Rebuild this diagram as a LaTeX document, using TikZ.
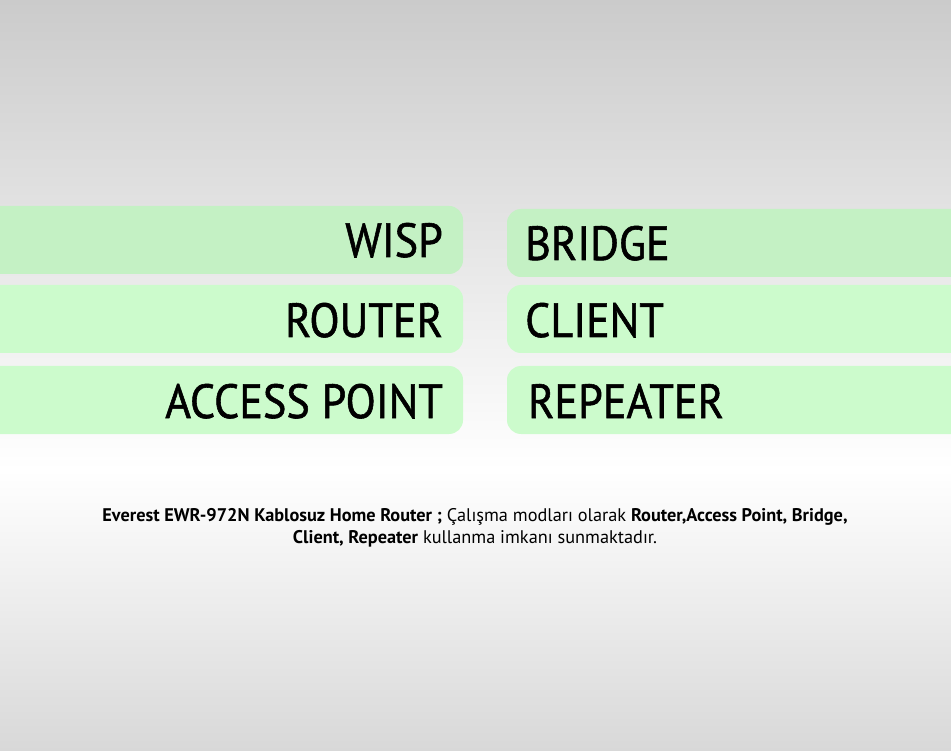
\documentclass[tikz,border=0pt]{standalone}
\usepackage{fontspec}
\setmainfont{PT Sans}
\newfontfamily\modefont[FakeBold=1.2]{PT Sans}
\usetikzlibrary{positioning}

\definecolor{bgtop}{RGB}{203,203,203}
\definecolor{bgbot}{RGB}{216,216,216}
\definecolor{boxA}{RGB}{196,241,196}
\definecolor{boxB}{RGB}{204,251,204}

\tikzset{
    modebox/.style={rounded corners=14pt},
    modetext/.style={font=\modefont\fontsize{48}{56}\selectfont, inner sep=0pt, xscale=0.92, transform shape}
}

\begin{document}
\begin{tikzpicture}[x=1pt, y=-1pt]
    \useasboundingbox (0,0) rectangle (951,751);
    \shade[top color=bgtop, bottom color=white] (0,0) rectangle (951,470);
    \shade[top color=white, bottom color=bgbot] (0,470) rectangle (951,751);

    % left column
    \fill[boxA, modebox] (-20,206) rectangle (463,274);
    \fill[boxB, modebox] (-20,285) rectangle (463,353);
    \fill[boxB, modebox] (-20,366) rectangle (463,434);
    % right column
    \fill[boxA, modebox] (507,209) rectangle (970,277);
    \fill[boxB, modebox] (507,285) rectangle (970,353);
    \fill[boxB, modebox] (507,366) rectangle (970,434);

    \node[modetext, anchor=base east] (wisp) at (443,257) {WISP};
    \node[modetext, anchor=base east] (router) at (443,337) {ROUTER};
    \node[modetext, anchor=base east] (ap) at (443,418) {ACCESS POINT};
    \node[modetext, anchor=base west] (bridge) at (525,260) {BRIDGE};
    \node[modetext, anchor=base west] (client) at (525,337) {CLIENT};
    \node[modetext, anchor=base west] (repeater) at (528,418) {REPEATER};

    \node[font=\fontsize{18.3}{22}\selectfont, align=center, inner sep=0pt, anchor=base] (info) at (475,543)
        {\textbf{Everest EWR-972N Kablosuz Home Router ;} Çalışma modları olarak \textbf{Router,Access Point, Bridge,}\\
         \textbf{Client, Repeater} kullanma imkanı sunmaktadır.};
\end{tikzpicture}
\end{document}
